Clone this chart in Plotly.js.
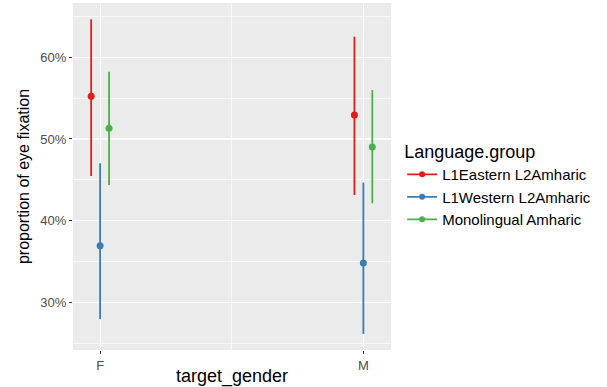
<!DOCTYPE html>
<html>
<head>
<meta charset="utf-8">
<script src="https://cdn.plot.ly/plotly-3.0.1.min.js"></script>
<style>html,body{margin:0;padding:0;background:#fff;}#chart{width:607px;height:387px;}</style>
</head>
<body>
<div id="chart"></div>
<script>
const categories = ["F", "M"];
const groups = ["L1Eastern L2Amharic", "L1Western L2Amharic", "Monolingual Amharic"];
const colors = ["#E41A1C", "#377EB8", "#4DAF4A"];
// proportion estimates per group, per category (F, M)
const eastern_mean = [0.5523, 0.5294];
const eastern_low  = [0.4547, 0.4315];
const eastern_high = [0.6465, 0.6252];
const western_mean = [0.3694, 0.3482];
const western_low  = [0.2793, 0.2613];
const western_high = [0.4703, 0.4465];
const mono_mean    = [0.5131, 0.4902];
const mono_low     = [0.4437, 0.4213];
const mono_high    = [0.5824, 0.5600];

const series = [
  {mean: eastern_mean, low: eastern_low, high: eastern_high},
  {mean: western_mean, low: western_low, high: western_high},
  {mean: mono_mean, low: mono_low, high: mono_high}
];
const dodge = 0.034;
const traces = [];
series.forEach((s, i) => {
  const x = categories.map((c, j) => j + 1 + (i - 1) * dodge);
  traces.push({
    type: "scatter", mode: "markers", x: x, y: s.mean,
    name: groups[i], showlegend: false,
    marker: {color: colors[i], size: 7},
    error_y: {
      type: "data", symmetric: false,
      array: s.high.map((h, j) => h - s.mean[j]),
      arrayminus: s.mean.map((m, j) => m - s.low[j]),
      color: colors[i], thickness: 1.8, width: 0
    },
    hoverinfo: "x+y"
  });
});
groups.forEach((g, i) => {
  traces.push({
    type: "scatter", mode: "lines+markers", x: [null], y: [null],
    name: g, showlegend: true,
    marker: {color: colors[i], size: 6},
    line: {color: colors[i], width: 1.8}
  });
});

const layout = {
  width: 607, height: 387,
  margin: {l: 73, r: 216, t: 3, b: 37},
  paper_bgcolor: "#ffffff",
  plot_bgcolor: "#EBEBEB",
  font: {family: "Liberation Sans, Arial, sans-serif", color: "#000"},
  xaxis: {
    range: [0.897, 2.105],
    tickvals: [1, 2], ticktext: categories,
    showgrid: true, gridcolor: "#ffffff", gridwidth: 1.2,
    zeroline: false, showline: false,
    ticks: "outside", ticklen: 3, tickcolor: "#333333", tickwidth: 1,
    tickfont: {size: 13, color: "#4D4D4D"},
    minor: {tickvals: [1.5], showgrid: true, gridcolor: "#ffffff", gridwidth: 0.6, ticks: ""},
    title: {text: "target_gender", font: {size: 18, color: "#000"}, standoff: 2}
  },
  yaxis: {
    range: [0.2416, 0.6665],
    tickvals: [0.3, 0.4, 0.5, 0.6], tickformat: ".0%",
    showgrid: true, gridcolor: "#ffffff", gridwidth: 1.2,
    zeroline: false, showline: false,
    ticks: "outside", ticklen: 3, tickcolor: "#333333", tickwidth: 1,
    tickfont: {size: 13, color: "#4D4D4D"},
    minor: {tickvals: [0.25, 0.35, 0.45, 0.55, 0.65], showgrid: true, gridcolor: "#ffffff", gridwidth: 0.6, ticks: ""},
    title: {text: "proportion of eye fixation", font: {size: 16, color: "#000"}, standoff: 6}
  },
  legend: {
    x: 1.035, xanchor: "left", y: 0.475, yanchor: "middle",
    bgcolor: "rgba(0,0,0,0)",
    title: {text: "Language.group", font: {size: 18, color: "#000"}},
    font: {size: 15, color: "#000"},
    tracegroupgap: 0, itemwidth: 30
  },
  showlegend: true
};
Plotly.newPlot("chart", traces, layout, {displayModeBar: false, staticPlot: true});
</script>
</body>
</html>
